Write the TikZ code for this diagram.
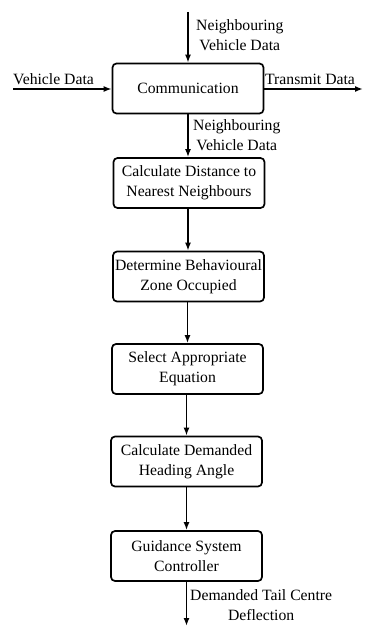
\documentclass[tikz,border=0pt]{standalone}
\usepackage{fontspec}
\setmainfont{Liberation Serif}
\usetikzlibrary{arrows.meta}
\begin{document}
\begin{tikzpicture}[x=1pt,y=-1pt,
  stepbox/.style={draw, line width=1.7pt, rounded corners=4pt, minimum width=151pt, minimum height=50pt, inner sep=0pt, align=center, font=\fontsize{15.7}{20}\selectfont},
  lbl/.style={align=center, inner sep=0pt, font=\fontsize{15.7}{20}\selectfont},
  arr/.style={line width=1.7pt, -{Latex[length=8pt,width=6pt]}}]
\useasboundingbox (0,0) rectangle (364,626);
\node[stepbox] (comm) at (188,88.5) {Communication};
\node[stepbox] (dist) at (189,183) {Calculate Distance to\\Nearest Neighbours};
\node[stepbox] (zone) at (188.5,276.5) {Determine Behavioural\\Zone Occupied};
\node[stepbox] (eq) at (187.5,369) {Select Appropriate\\Equation};
\node[stepbox] (head) at (186.5,461.5) {Calculate Demanded\\Heading Angle};
\node[stepbox] (guid) at (186.5,556) {Guidance System\\Controller};
\coordinate (top) at (188,12);
\coordinate (left) at (13,89);
\coordinate (right) at (363,89);
\coordinate (bot) at (186.5,626);
\draw[arr] (top) -- (comm.north);
\draw[arr] (left) -- (comm.west |- left);
\draw[arr] (comm.east |- right) -- (right);
\draw[arr] (comm.south) -- (comm.south |- dist.north);
\draw[arr] (dist.south -| comm.south) -- (comm.south |- zone.north);
\draw[arr] (zone.south -| eq.north) -- (eq.north);
\draw[arr] (eq.south -| head.north) -- (head.north);
\draw[arr] (head.south) -- (guid.north);
\draw[arr] (guid.south) -- (bot);
\node[lbl, anchor=west] (l1) at (196,35) {Neighbouring\\Vehicle Data};
\node[lbl, anchor=west] (l2) at (193,135) {Neighbouring\\Vehicle Data};
\node[lbl, anchor=south west] (l3) at (13,85) {Vehicle Data};
\node[lbl, anchor=south west] (l4) at (265,85) {Transmit Data};
\node[lbl, anchor=west] (l5) at (190,605) {Demanded Tail Centre\\Deflection};
\end{tikzpicture}
\end{document}
